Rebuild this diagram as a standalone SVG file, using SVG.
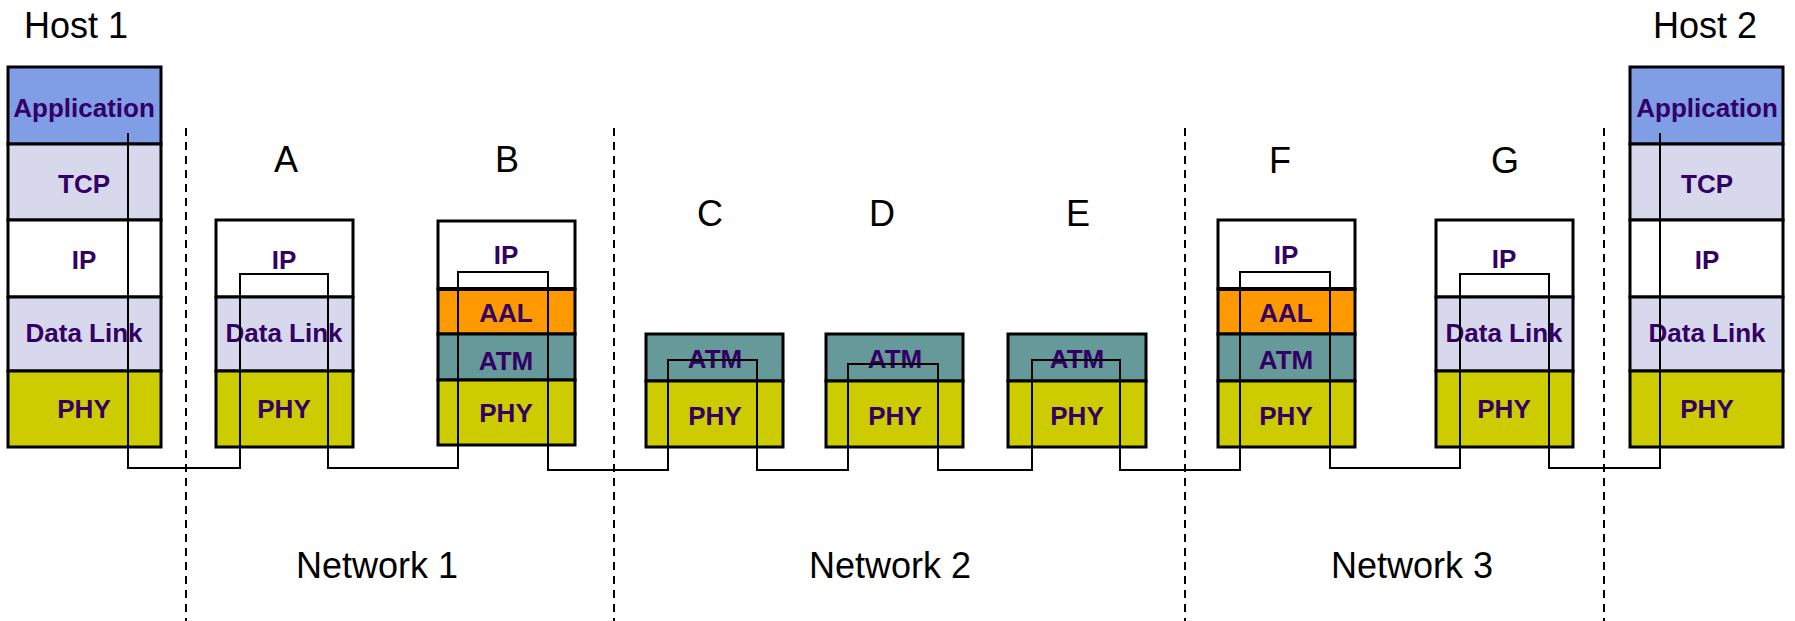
<svg xmlns="http://www.w3.org/2000/svg" width="1795" height="621" viewBox="0 0 1795 621">
<style>
.bg{fill:#ffffff}
.lay{stroke:#000;stroke-width:3}
.app{fill:#7f9ee6}
.lav{fill:#d8d8ec}
.wht{fill:#ffffff}
.phy{fill:#cccc00}
.aal{fill:#ff9900}
.atm{fill:#669999}
.lbl{font-family:"Liberation Sans",Arial,sans-serif;font-weight:bold;font-size:26px;fill:#330066;text-anchor:middle}
.big{font-family:"Liberation Sans",Arial,sans-serif;font-size:36px;fill:#000;text-anchor:middle}
.dash{stroke:#000;stroke-width:2;stroke-dasharray:8 6;fill:none}
.conn{stroke:#000;stroke-width:2;fill:none}
</style>
<rect class="bg" x="0" y="0" width="1795" height="621"/>
<g id="dividers">
<line class="dash" x1="186" y1="128" x2="186" y2="621"/>
<line class="dash" x1="614" y1="128" x2="614" y2="621"/>
<line class="dash" x1="1185" y1="128" x2="1185" y2="621"/>
<line class="dash" x1="1604" y1="128" x2="1604" y2="621"/>
</g>
<g id="labels">
<text class="big" x="76" y="38">Host 1</text>
<text class="big" x="1705" y="38">Host 2</text>
<text class="big" x="286" y="172">A</text>
<text class="big" x="507" y="172">B</text>
<text class="big" x="710" y="226">C</text>
<text class="big" x="882" y="226">D</text>
<text class="big" x="1078" y="226">E</text>
<text class="big" x="1280" y="173">F</text>
<text class="big" x="1505" y="173">G</text>
<text class="big" x="377" y="578">Network 1</text>
<text class="big" x="890" y="578">Network 2</text>
<text class="big" x="1412" y="578">Network 3</text>
</g>
<g id="host1">
<rect class="lay app" x="8" y="67" width="153" height="77"/>
<rect class="lay lav" x="8" y="144" width="153" height="76"/>
<rect class="lay wht" x="8" y="220" width="153" height="77"/>
<rect class="lay lav" x="8" y="297" width="153" height="74"/>
<rect class="lay phy" x="8" y="371" width="153" height="76"/>
<text class="lbl" x="84" y="117">Application</text>
<text class="lbl" x="84" y="193">TCP</text>
<text class="lbl" x="84" y="269">IP</text>
<text class="lbl" x="84" y="342">Data Link</text>
<text class="lbl" x="84" y="418">PHY</text>
</g>
<g id="nodeA">
<rect class="lay wht" x="216" y="220" width="137" height="77"/>
<rect class="lay lav" x="216" y="297" width="137" height="74"/>
<rect class="lay phy" x="216" y="371" width="137" height="76"/>
<text class="lbl" x="284" y="269">IP</text>
<text class="lbl" x="284" y="342">Data Link</text>
<text class="lbl" x="284" y="418">PHY</text>
</g>
<g id="nodeB">
<rect class="lay wht" x="438" y="221" width="137" height="68"/>
<rect class="lay aal" x="438" y="289" width="137" height="45"/>
<rect class="lay atm" x="438" y="334" width="137" height="46"/>
<rect class="lay phy" x="438" y="380" width="137" height="65"/>
<line x1="438" y1="289" x2="575" y2="289" stroke="#000" stroke-width="4"/>
<text class="lbl" x="506" y="264">IP</text>
<text class="lbl" x="506" y="322">AAL</text>
<text class="lbl" x="506" y="370">ATM</text>
<text class="lbl" x="506" y="422">PHY</text>
</g>
<g id="nodeC">
<rect class="lay atm" x="646" y="334" width="137" height="47"/>
<rect class="lay phy" x="646" y="381" width="137" height="66"/>
<text class="lbl" x="715" y="368">ATM</text>
<text class="lbl" x="715" y="425">PHY</text>
</g>
<g id="nodeD">
<rect class="lay atm" x="826" y="334" width="137" height="47"/>
<rect class="lay phy" x="826" y="381" width="137" height="66"/>
<text class="lbl" x="895" y="368">ATM</text>
<text class="lbl" x="895" y="425">PHY</text>
</g>
<g id="nodeE">
<rect class="lay atm" x="1008" y="334" width="138" height="47"/>
<rect class="lay phy" x="1008" y="381" width="138" height="66"/>
<text class="lbl" x="1077" y="368">ATM</text>
<text class="lbl" x="1077" y="425">PHY</text>
</g>
<g id="nodeF">
<rect class="lay wht" x="1218" y="220" width="137" height="69"/>
<rect class="lay aal" x="1218" y="289" width="137" height="45"/>
<rect class="lay atm" x="1218" y="334" width="137" height="47"/>
<rect class="lay phy" x="1218" y="381" width="137" height="66"/>
<line x1="1218" y1="289" x2="1355" y2="289" stroke="#000" stroke-width="4"/>
<text class="lbl" x="1286" y="264">IP</text>
<text class="lbl" x="1286" y="322">AAL</text>
<text class="lbl" x="1286" y="369">ATM</text>
<text class="lbl" x="1286" y="425">PHY</text>
</g>
<g id="nodeG">
<rect class="lay wht" x="1436" y="220" width="137" height="77"/>
<rect class="lay lav" x="1436" y="297" width="137" height="74"/>
<rect class="lay phy" x="1436" y="371" width="137" height="76"/>
<text class="lbl" x="1504" y="268">IP</text>
<text class="lbl" x="1504" y="342">Data Link</text>
<text class="lbl" x="1504" y="418">PHY</text>
</g>
<g id="host2">
<rect class="lay app" x="1630" y="67" width="153" height="77"/>
<rect class="lay lav" x="1630" y="144" width="153" height="76"/>
<rect class="lay wht" x="1630" y="220" width="153" height="77"/>
<rect class="lay lav" x="1630" y="297" width="153" height="74"/>
<rect class="lay phy" x="1630" y="371" width="153" height="76"/>
<text class="lbl" x="1707" y="117">Application</text>
<text class="lbl" x="1707" y="193">TCP</text>
<text class="lbl" x="1707" y="269">IP</text>
<text class="lbl" x="1707" y="342">Data Link</text>
<text class="lbl" x="1707" y="418">PHY</text>
</g>
<g id="connectors">
<path class="conn" d="M128,133 V468 H240 V274 H328 V468 H458 V272 H548 V470 H668 V360 H757 V470 H848 V364 H938 V470 H1032 V360 H1120 V470 H1240 V272 H1330 V468 H1460 V274 H1549 V468 H1660 V133"/>
</g>
</svg>
